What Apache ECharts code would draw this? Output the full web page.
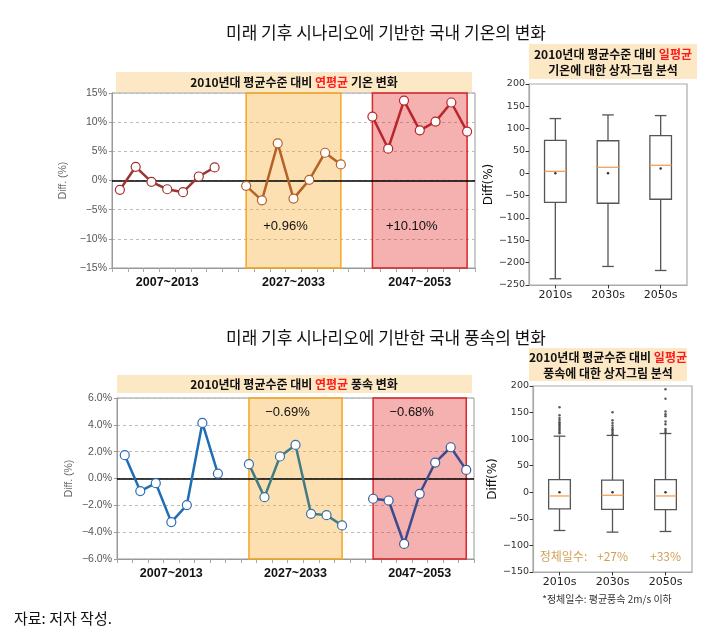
<!DOCTYPE html>
<html><head><meta charset="utf-8">
<script src="https://cdn.jsdelivr.net/npm/echarts@6/dist/echarts.min.js"></script>
<style>html,body{margin:0;padding:0;background:#fff}#c{width:716px;height:636px}</style>
</head><body><div id="c"></div>
<script>
// ---------- data ----------
const categories = ['2007','2008','2009','2010','2011','2012','2013','gap1',
  '2027','2028','2029','2030','2031','2032','2033','gap2',
  '2047','2048','2049','2050','2051','2052','2053'];
const groupLabels = {'2010':'2007~2013','2030':'2027~2033','2050':'2047~2053'};
const tempG1 = [-1.6, 2.35, -0.23, -1.5, -2.0, 0.69, 2.24];
const tempG2 = [-0.92, -3.4, 6.37, -3.1, 0.11, 4.76, 2.75];
const tempG3 = [10.96, 5.45, 13.7, 8.6, 10.1, 13.37, 8.38];
const windG1 = [1.74, -0.94, -0.35, -3.25, -1.98, 4.14, 0.37];
const windG2 = [1.07, -1.39, 1.64, 2.5, -2.63, -2.73, -3.5];
const windG3 = [-1.51, -1.64, -4.88, -1.14, 1.19, 2.33, 0.64];
const tempMeanLabels = ['+0.96%', '+10.10%'];
const tempMeanLabelY = -7.8;
const windMeanLabels = ['\u22120.69%', '\u22120.68%'];
const windMeanLabelY = 4.9;

const boxCats = ['2010s','2030s','2050s'];
const tempBoxMin = [-236, -208.5, -217.5];
const tempBoxQ1 = [-65, -67, -58];
const tempBoxMed = [4.5, 13.5, 18];
const tempBoxQ3 = [74, 73, 84.5];
const tempBoxMax = [122.6, 130.8, 129.3];
const tempBoxMean = [0, 0, 11];

const windBoxMin = [-71.9, -75, -73.75];
const windBoxQ1 = [-31.25, -32, -32.5];
const windBoxMed = [-6.9, -5.6, -6.9];
const windBoxQ3 = [23.75, 23, 23.75];
const windBoxMax = [105.6, 107, 110.6];
const windBoxMean = [0, 0, 0];
const windOut2010 = [111, 114, 117, 120, 123, 126, 129, 132, 136, 140, 145, 160];
const windOut2030 = [109.4, 112.5, 115.6, 118.1, 121.3, 125.6, 130.6, 135.6, 150.6];
const windOut2050 = [112.5, 116, 119, 128, 133, 143, 147, 152, 176, 193.75];
const stagnantLabels = ['정체일수:', '+27%', '+33%'];
const stagnantY = -120;

// ---------- helpers ----------
const MINUS = '\u2212';
function pad(arr, start) {
  const out = categories.map(() => null);
  arr.forEach((v, i) => { out[start + i] = v; });
  return out;
}
function fmtSigned(v, dec) {
  const s = Math.abs(v).toFixed(dec);
  return v < 0 ? MINUS + s : s;
}
const lineFont = 'Liberation Sans';
const krFont = 'Noto Sans CJK KR';
const mplFont = 'DejaVu Sans';

function lineXAxis(grid) {
  return {
    type: 'category', gridIndex: grid, data: categories, boundaryGap: true,
    axisLine: { onZero: false, lineStyle: { color: '#999' } },
    axisTick: { show: true, interval: 0, length: 4, lineStyle: { color: '#aaa' } },
    axisLabel: { interval: 0, margin: 8, fontFamily: lineFont, fontWeight: 'bold', fontSize: 12.5, color: '#111',
      formatter: v => groupLabels[v] || '' },
    splitLine: { show: false }
  };
}
function lineYAxis(grid, min, max, interval, dec) {
  return {
    type: 'value', gridIndex: grid, min, max, interval,
    name: 'Diff. (%)', nameLocation: 'middle', nameGap: 42, nameRotate: 90,
    nameTextStyle: { fontFamily: lineFont, fontSize: 10.5, color: '#666' },
    axisLine: { show: true, onZero: false, lineStyle: { color: '#999' } },
    axisTick: { show: true, length: 3, lineStyle: { color: '#999' } },
    axisLabel: { fontFamily: lineFont, fontSize: 10.5, color: '#555', margin: 5,
      formatter: v => fmtSigned(v, dec) + '%' },
    splitLine: { show: true, lineStyle: { color: '#bbb', type: [3, 3] } }
  };
}
function boxXAxis(grid) {
  return {
    type: 'category', gridIndex: grid, data: boxCats, boundaryGap: true,
    axisLine: { onZero: false, lineStyle: { color: '#aaa', width: 1.2 } },
    axisTick: { show: true, alignWithLabel: true, length: 3.5, lineStyle: { color: '#333' } },
    axisLabel: { fontFamily: mplFont, fontSize: 11, color: '#222', margin: 5 }
  };
}
function boxYAxis(grid, min, max) {
  return {
    type: 'value', gridIndex: grid, min, max, interval: 50,
    name: 'Diff(%)', nameLocation: 'middle', nameGap: 24, nameRotate: 90,
    nameTextStyle: { fontFamily: mplFont, fontSize: 12, color: '#111' },
    axisLine: { show: true, onZero: false, lineStyle: { color: '#aaa', width: 1.2 } },
    axisTick: { show: true, length: 3.5, lineStyle: { color: '#333' } },
    axisLabel: { fontFamily: mplFont, fontSize: 9.5, color: '#333', margin: 4,
      formatter: v => fmtSigned(v, 0) },
    splitLine: { show: false }
  };
}
function boxRender(params, api) {
  const c = api.value(0);
  const pMn = api.coord([c, api.value(1)]);
  const pQ1 = api.coord([c, api.value(2)]);
  const pMd = api.coord([c, api.value(3)]);
  const pQ3 = api.coord([c, api.value(4)]);
  const pMx = api.coord([c, api.value(5)]);
  const x = pMd[0];
  const bw = api.size([1, 0])[0] * 0.41;
  const hw = bw / 2, cw = bw * 0.27;
  const st = { stroke: '#555', lineWidth: 1.3, fill: null };
  return { type: 'group', children: [
    { type: 'line', shape: { x1: x, y1: pMx[1], x2: x, y2: pQ3[1] }, style: st },
    { type: 'line', shape: { x1: x, y1: pQ1[1], x2: x, y2: pMn[1] }, style: st },
    { type: 'line', shape: { x1: x - cw, y1: pMx[1], x2: x + cw, y2: pMx[1] }, style: st },
    { type: 'line', shape: { x1: x - cw, y1: pMn[1], x2: x + cw, y2: pMn[1] }, style: st },
    { type: 'rect', shape: { x: x - hw, y: pQ3[1], width: bw, height: pQ1[1] - pQ3[1] }, style: { stroke: '#555', lineWidth: 1.3, fill: '#fff' } },
    { type: 'line', shape: { x1: x - hw, y1: pMd[1], x2: x + hw, y2: pMd[1] }, style: { stroke: '#F5A05A', lineWidth: 1.3 } }
  ]};
}
function boxData(mn, q1, md, q3, mx) {
  return boxCats.map((_, i) => [i, mn[i], q1[i], md[i], q3[i], mx[i]]);
}
function lineSeries(name, grid, arr, start, color, extra) {
  return Object.assign({
    type: 'line', name, xAxisIndex: grid, yAxisIndex: grid,
    data: pad(arr, start), connectNulls: false,
    symbol: 'circle', symbolSize: 9, showSymbol: true,
    lineStyle: { color, width: 2.5 },
    itemStyle: { color: '#fff', borderColor: color, borderWidth: 1.2 },
    z: 5
  }, extra || {});
}
const zeroLine = {
  silent: true, symbol: 'none', label: { show: false },
  lineStyle: { color: '#000', width: 1.5, type: 'solid' },
  data: [{ yAxis: 0 }]
};
const orangeArea = { color: 'rgba(247,170,40,0.36)', borderColor: '#F5A623', borderWidth: 1.5 };
const redArea = { color: 'rgba(228,40,40,0.37)', borderColor: '#D9282B', borderWidth: 1.5 };
function meanMark(label, xcat, y) {
  return {
    symbol: 'circle', symbolSize: 1, itemStyle: { color: 'rgba(0,0,0,0)' },
    label: { show: true, position: 'inside', offset: [-8, 0], formatter: label,
      fontFamily: lineFont, fontSize: 13, color: '#111' },
    data: [{ coord: [xcat, y] }]
  };
}

const option = {
  backgroundColor: '#fff',
  animation: false,
  title: [
    { text: '미래 기후 시나리오에 기반한 국내 기온의 변화', left: 381, top: 19, textAlign: 'center',
      textStyle: { fontFamily: krFont, fontWeight: 'normal', fontSize: 17, color: '#111' } },
    { text: '미래 기후 시나리오에 기반한 국내 풍속의 변화', left: 381, top: 324, textAlign: 'center',
      textStyle: { fontFamily: krFont, fontWeight: 'normal', fontSize: 17, color: '#111' } },
    { text: '자료: 저자 작성.', left: 9, top: 606,
      textStyle: { fontFamily: krFont, fontWeight: 'normal', fontSize: 15, color: '#111' } },
    { text: '*정체일수: 평균풍속 2m/s 이하', left: 602, top: 589, textAlign: 'center',
      textStyle: { fontFamily: krFont, fontWeight: 'normal', fontSize: 10, color: '#333' } }
  ],
  grid: [
    { left: 112, top: 93, width: 363, height: 175, show: true, borderColor: '#999', borderWidth: 1, containLabel: false },
    { left: 529, top: 84, width: 158, height: 201, show: true, borderColor: '#aaa', borderWidth: 1.2 },
    { left: 117, top: 398, width: 357, height: 161, show: true, borderColor: '#999', borderWidth: 1 },
    { left: 533, top: 386, width: 159, height: 186, show: true, borderColor: '#aaa', borderWidth: 1.2 }
  ],
  xAxis: [lineXAxis(0), boxXAxis(1), lineXAxis(2), boxXAxis(3)],
  yAxis: [lineYAxis(0, -15, 15, 5, 0), boxYAxis(1, -250, 200), lineYAxis(2, -6, 6, 2, 1), boxYAxis(3, -150, 200)],
  graphic: [
    { type: 'rect', shape: { x: 116, y: 72, width: 356, height: 20 }, style: { fill: '#FDE8C6' }, z: 1 },
    { type: 'text', x: 294, y: 82, style: { text: '{b|2010년대 평균수준 대비 }{r|연평균}{b| 기온 변화}', align: 'center', verticalAlign: 'middle',
      rich: { b: { fontFamily: krFont, fontWeight: 'bold', fontSize: 12, fill: '#111' }, r: { fontFamily: krFont, fontWeight: 'bold', fontSize: 12, fill: '#FF1A1A' } } }, z: 2 },
    { type: 'rect', shape: { x: 529, y: 44, width: 168, height: 35 }, style: { fill: '#FDE8C6' }, z: 1 },
    { type: 'text', x: 613, y: 62, style: { text: '{b|2010년대 평균수준 대비 }{r|일평균}\n{b|기온에 대한 상자그림 분석}', align: 'center', verticalAlign: 'middle',
      rich: { b: { fontFamily: krFont, fontWeight: 'bold', fontSize: 12, fill: '#111', lineHeight: 16 }, r: { fontFamily: krFont, fontWeight: 'bold', fontSize: 12, fill: '#FF1A1A', lineHeight: 16 } } }, z: 2 },
    { type: 'rect', shape: { x: 117, y: 375, width: 355, height: 18 }, style: { fill: '#FDE8C6' }, z: 1 },
    { type: 'text', x: 294, y: 384, style: { text: '{b|2010년대 평균수준 대비 }{r|연평균}{b| 풍속 변화}', align: 'center', verticalAlign: 'middle',
      rich: { b: { fontFamily: krFont, fontWeight: 'bold', fontSize: 12, fill: '#111' }, r: { fontFamily: krFont, fontWeight: 'bold', fontSize: 12, fill: '#FF1A1A' } } }, z: 2 },
    { type: 'rect', shape: { x: 529, y: 348, width: 158, height: 33 }, style: { fill: '#FDE8C6' }, z: 1 },
    { type: 'text', x: 608, y: 365, style: { text: '{b|2010년대 평균수준 대비 }{r|일평균}\n{b|풍속에 대한 상자그림 분석}', align: 'center', verticalAlign: 'middle',
      rich: { b: { fontFamily: krFont, fontWeight: 'bold', fontSize: 12, fill: '#111', lineHeight: 16 }, r: { fontFamily: krFont, fontWeight: 'bold', fontSize: 12, fill: '#FF1A1A', lineHeight: 16 } } }, z: 2 }
  ],
  series: [
    lineSeries('t1', 0, tempG1, 0, '#A0332F', { markLine: zeroLine }),
    lineSeries('t2', 0, tempG2, 8, '#B5612A', {
      markArea: { silent: true, itemStyle: orangeArea, data: [[{ xAxis: '2027' }, { xAxis: '2033' }]] },
      markPoint: meanMark(tempMeanLabels[0], '2030', tempMeanLabelY) }),
    lineSeries('t3', 0, tempG3, 16, '#B8252A', {
      markArea: { silent: true, itemStyle: redArea, data: [[{ xAxis: '2047' }, { xAxis: '2053' }]] },
      markPoint: meanMark(tempMeanLabels[1], '2050', tempMeanLabelY) }),
    lineSeries('w1', 2, windG1, 0, '#1F6EB5', { markLine: zeroLine, itemStyle: { color: '#fff', borderColor: '#2E6DB4', borderWidth: 1.2 } }),
    lineSeries('w2', 2, windG2, 8, '#3F7C86', {
      itemStyle: { color: '#fff', borderColor: '#3A6FA8', borderWidth: 1.2 },
      markArea: { silent: true, itemStyle: orangeArea, data: [[{ xAxis: '2027' }, { xAxis: '2033' }]] },
      markPoint: meanMark(windMeanLabels[0], '2030', windMeanLabelY) }),
    lineSeries('w3', 2, windG3, 16, '#3B4B8E', {
      itemStyle: { color: '#fff', borderColor: '#3A5AA0', borderWidth: 1.2 },
      markArea: { silent: true, itemStyle: redArea, data: [[{ xAxis: '2047' }, { xAxis: '2053' }]] },
      markPoint: meanMark(windMeanLabels[1], '2050', windMeanLabelY) }),
    { type: 'custom', xAxisIndex: 1, yAxisIndex: 1, renderItem: boxRender,
      encode: { x: 0, y: [1, 2, 3, 4, 5] }, data: boxData(tempBoxMin, tempBoxQ1, tempBoxMed, tempBoxQ3, tempBoxMax), z: 3 },
    { type: 'scatter', xAxisIndex: 1, yAxisIndex: 1, symbolSize: 2.5, itemStyle: { color: '#000' },
      data: tempBoxMean.map((v, i) => [i, v]), z: 6 },
    { type: 'custom', xAxisIndex: 3, yAxisIndex: 3, renderItem: boxRender,
      encode: { x: 0, y: [1, 2, 3, 4, 5] }, data: boxData(windBoxMin, windBoxQ1, windBoxMed, windBoxQ3, windBoxMax), z: 3 },
    { type: 'scatter', xAxisIndex: 3, yAxisIndex: 3, symbolSize: 2.5, itemStyle: { color: '#000' },
      data: windBoxMean.map((v, i) => [i, v]), z: 6 },
    { type: 'scatter', xAxisIndex: 3, yAxisIndex: 3, symbolSize: 2.5, itemStyle: { color: '#333' },
      data: [].concat(windOut2010.map(v => [0, v]), windOut2030.map(v => [1, v]), windOut2050.map(v => [2, v])), z: 6 },
    { type: 'scatter', xAxisIndex: 3, yAxisIndex: 3, symbolSize: 0, silent: true,
      label: { show: true, position: 'inside', fontFamily: krFont, fontSize: 12, color: '#C8862A',
        formatter: p => stagnantLabels[p.dataIndex],
        offset: [0, 0] },
      labelLayout: p => p.dataIndex === 0 ? { dx: 4 } : {},
      data: stagnantLabels.map((_, i) => [i, stagnantY]), z: 6 }
  ]
};
const chart = echarts.init(document.getElementById('c'), null, { renderer: 'canvas' });
chart.setOption(option);
</script>
</body></html>
